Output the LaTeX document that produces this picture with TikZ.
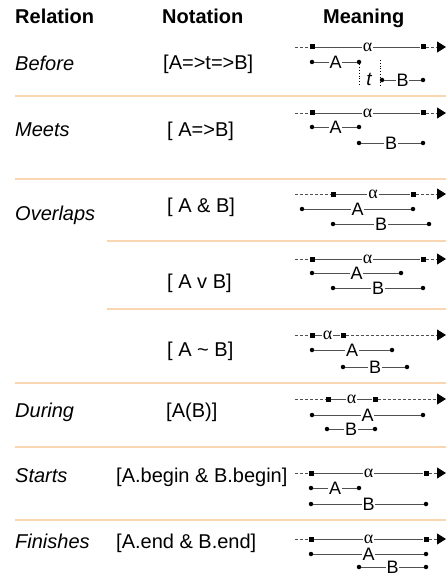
\documentclass[tikz,border=0pt]{standalone}
\usepackage{fontspec}
\setmainfont{Liberation Sans}
\newfontfamily\greekfont{Liberation Serif}
\usepackage{xcolor}
\usetikzlibrary{arrows.meta}

\definecolor{rulecol}{RGB}{248,214,178}
\definecolor{tline}{RGB}{80,80,80}

\newcommand{\alf}{{\greekfont α}}

\tikzset{
  head/.style={font=\fontsize{20}{24}\selectfont\bfseries, anchor=base west, inner sep=0pt},
  rel/.style={font=\fontsize{20}{24}\selectfont\itshape, anchor=base west, inner sep=0pt},
  nota/.style={font=\fontsize{20}{24}\selectfont, anchor=base west, inner sep=0pt},
  lbl/.style={font=\fontsize{18}{20}\selectfont, fill=white, inner sep=0.8pt},
  sq/.style={rectangle, fill=black, inner sep=0pt, minimum size=5pt},
  pt/.style={circle, fill=black, inner sep=0pt, minimum size=4.5pt},
  ival/.style={draw=tline, line width=0.8pt},
  open/.style={draw=tline, line width=0.8pt, dash pattern=on 3pt off 2pt},
  future/.style={open, -{Triangle[length=9pt,width=11pt,color=black]}},
  guide/.style={draw=black, line width=0.8pt, dotted},
  sep/.style={draw=rulecol, line width=1.2pt}
}

\begin{document}
\begin{tikzpicture}[x=1pt,y=-1pt]
\useasboundingbox (0,0) rectangle (446,575);

% column heads
\node[head] (hrel) at (15,24) {Relation};
\node[head] (hnot) at (162,24) {Notation};
\node[head] (hmea) at (323,24) {Meaning};

% row rules
\draw[sep] (15,96) -- (446,96);
\draw[sep] (15,179) -- (446,179);
\draw[sep] (107,241) -- (446,241);
\draw[sep] (107,309) -- (446,309);
\draw[sep] (15,383) -- (446,383);
\draw[sep] (15,447) -- (446,447);
\draw[sep] (15,520) -- (446,520);

% names and notations
\node[rel] (r1) at (15,71) {Before};
\node[nota] (n1) at (163,70) {[A=>t=>B]};
\node[rel] (r2) at (15,136) {Meets};
\node[nota] (n2) at (167,136) {[ A=>B]};
\node[rel] (r3) at (15,220) {Overlaps};
\node[nota] (n3) at (167,212) {[ A \& B]};
\node[nota] (n4) at (167,288) {[ A v B]};
\node[nota] (n5) at (167,356) {[ A \textasciitilde{} B]};
\node[rel] (r6) at (15,417) {During};
\node[nota] (n6) at (166,417) {[A(B)]};
\node[rel] (r7) at (15,482) {Starts};
\node[nota] (n7) at (116,482) {[A.begin \& B.begin]};
\node[rel] (r8) at (15,548) {Finishes};
\node[nota] (n8) at (116,548) {[A.end \& B.end]};

% before
\coordinate (x1) at (295,47); \coordinate (e1) at (446,47);
\node[sq] (s1a) at (312,47) {}; \node[sq] (s1b) at (423,47) {};
\node[pt] (a1a) at (312,62) {}; \node[pt] (a1b) at (359,62) {};
\node[pt] (b1a) at (382,80) {}; \node[pt] (b1b) at (423,80) {};
\draw[open] (x1) -- (s1a);
\draw[ival] (s1a) -- node[lbl] {\alf} (s1b);
\draw[future] (s1b) -- (e1);
\draw[ival] (a1a) -- node[lbl] {A} (a1b);
\draw[ival] (b1a) -- node[lbl] {B} (b1b);
\coordinate (g1) at (380,60); \coordinate (g2) at (380,86);
\draw[guide] (a1b) -- (a1b |- g2);
\draw[guide] (g1) -- (g2);
\node[font=\fontsize{19}{20}\selectfont\itshape, inner sep=0pt] (t1) at (369,79) {t};

% meets
\coordinate (x2) at (295,113); \coordinate (e2) at (446,113);
\node[sq] (s2a) at (312,113) {}; \node[sq] (s2b) at (423,113) {};
\node[pt] (a2a) at (312,127) {}; \node[pt] (a2b) at (359,127) {};
\node[pt] (b2a) at (359,143) {}; \node[pt] (b2b) at (423,143) {};
\draw[open] (x2) -- (s2a);
\draw[ival] (s2a) -- node[lbl] {\alf} (s2b);
\draw[future] (s2b) -- (e2);
\draw[ival] (a2a) -- node[lbl] {A} (a2b);
\draw[ival] (b2a) -- node[lbl] {B} (b2b);

% overlaps, and
\coordinate (x3) at (295,194); \coordinate (e3) at (446,194);
\node[sq] (s3a) at (333,194) {}; \node[sq] (s3b) at (413,194) {};
\node[pt] (a3a) at (302,209) {}; \node[pt] (a3b) at (413,209) {};
\node[pt] (b3a) at (333,224) {}; \node[pt] (b3b) at (429,224) {};
\draw[open] (x3) -- (s3a);
\draw[ival] (s3a) -- node[lbl] {\alf} (s3b);
\draw[future] (s3b) -- (e3);
\draw[ival] (a3a) -- node[lbl] {A} (a3b);
\draw[ival] (b3a) -- node[lbl] {B} (b3b);

% overlaps, or
\coordinate (x4) at (295,259); \coordinate (e4) at (446,259);
\node[sq] (s4a) at (312,259) {}; \node[sq] (s4b) at (423,259) {};
\node[pt] (a4a) at (312,273) {}; \node[pt] (a4b) at (401,273) {};
\node[pt] (b4a) at (333,288) {}; \node[pt] (b4b) at (423,288) {};
\draw[open] (x4) -- (s4a);
\draw[ival] (s4a) -- node[lbl] {\alf} (s4b);
\draw[future] (s4b) -- (e4);
\draw[ival] (a4a) -- node[lbl] {A} (a4b);
\draw[ival] (b4a) -- node[lbl] {B} (b4b);

% overlaps, not
\coordinate (x5) at (295,335); \coordinate (e5) at (446,335);
\node[sq] (s5a) at (312,335) {}; \node[sq] (s5b) at (343,335) {};
\node[pt] (a5a) at (312,350) {}; \node[pt] (a5b) at (392,350) {};
\node[pt] (b5a) at (343,367) {}; \node[pt] (b5b) at (407,367) {};
\draw[open] (x5) -- (s5a);
\draw[ival] (s5a) -- node[lbl] {\alf} (s5b);
\draw[future] (s5b) -- (e5);
\draw[ival] (a5a) -- node[lbl] {A} (a5b);
\draw[ival] (b5a) -- node[lbl] {B} (b5b);

% during
\coordinate (x6) at (295,399); \coordinate (e6) at (446,399);
\node[sq] (s6a) at (328,399) {}; \node[sq] (s6b) at (375,399) {};
\node[pt] (a6a) at (312,415) {}; \node[pt] (a6b) at (423,415) {};
\node[pt] (b6a) at (327,429) {}; \node[pt] (b6b) at (375,429) {};
\draw[open] (x6) -- (s6a);
\draw[ival] (s6a) -- node[lbl] {\alf} (s6b);
\draw[future] (s6b) -- (e6);
\draw[ival] (a6a) -- node[lbl] {A} (a6b);
\draw[ival] (b6a) -- node[lbl] {B} (b6b);

% starts
\coordinate (x7) at (295,473); \coordinate (e7) at (446,473);
\node[sq] (s7a) at (311,473) {}; \node[sq] (s7b) at (426,473) {};
\node[pt] (a7a) at (311,488) {}; \node[pt] (a7b) at (359,488) {};
\node[pt] (b7a) at (311,504) {}; \node[pt] (b7b) at (426,504) {};
\draw[open] (x7) -- (s7a);
\draw[ival] (s7a) -- node[lbl] {\alf} (s7b);
\draw[future] (s7b) -- (e7);
\draw[ival] (a7a) -- node[lbl] {A} (a7b);
\draw[ival] (b7a) -- node[lbl] {B} (b7b);

% finishes
\coordinate (x8) at (295,539); \coordinate (e8) at (446,539);
\node[sq] (s8a) at (311,539) {}; \node[sq] (s8b) at (426,539) {};
\node[pt] (a8a) at (311,554) {}; \node[pt] (a8b) at (426,554) {};
\node[pt] (b8a) at (359,567) {}; \node[pt] (b8b) at (426,567) {};
\draw[open] (x8) -- (s8a);
\draw[ival] (s8a) -- node[lbl] {\alf} (s8b);
\draw[future] (s8b) -- (e8);
\draw[ival] (a8a) -- node[lbl] {A} (a8b);
\draw[ival] (b8a) -- node[lbl] {B} (b8b);

\end{tikzpicture}
\end{document}
